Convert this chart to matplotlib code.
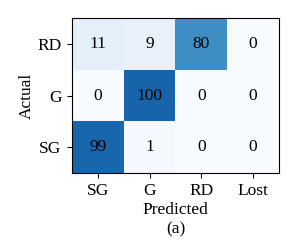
import numpy as np
import matplotlib
matplotlib.use("Agg")
import matplotlib.pyplot as plt

plt.rcParams["font.family"] = ["Liberation Serif", "DejaVu Serif"]
plt.rcParams["font.size"] = 12.5

predicted = ["SG", "G", "RD", "Lost"]
actual = ["SG", "G", "RD"]
counts = np.array([
    [99, 1, 0, 0],
    [0, 100, 0, 0],
    [11, 9, 80, 0],
])

fig = plt.figure(figsize=(3, 2.5), dpi=100)
ax = fig.add_axes([0.24, 0.308, 0.69, 0.62])
ax.imshow(counts, cmap="Blues", vmin=0, vmax=125, origin="lower", aspect="auto")

for i in range(len(actual)):
    for j in range(len(predicted)):
        ax.text(j, i, str(counts[i, j]), ha="center", va="center", color="black")

ax.set_xticks(range(len(predicted)))
ax.set_xticklabels(predicted)
ax.set_yticks(range(len(actual)))
ax.set_yticklabels(actual)
ax.tick_params(pad=4)
ax.set_xlabel("Predicted\n(a)", linespacing=1.3, labelpad=2)
ax.set_ylabel("Actual", labelpad=2)

fig.savefig("out.png", dpi=100)
